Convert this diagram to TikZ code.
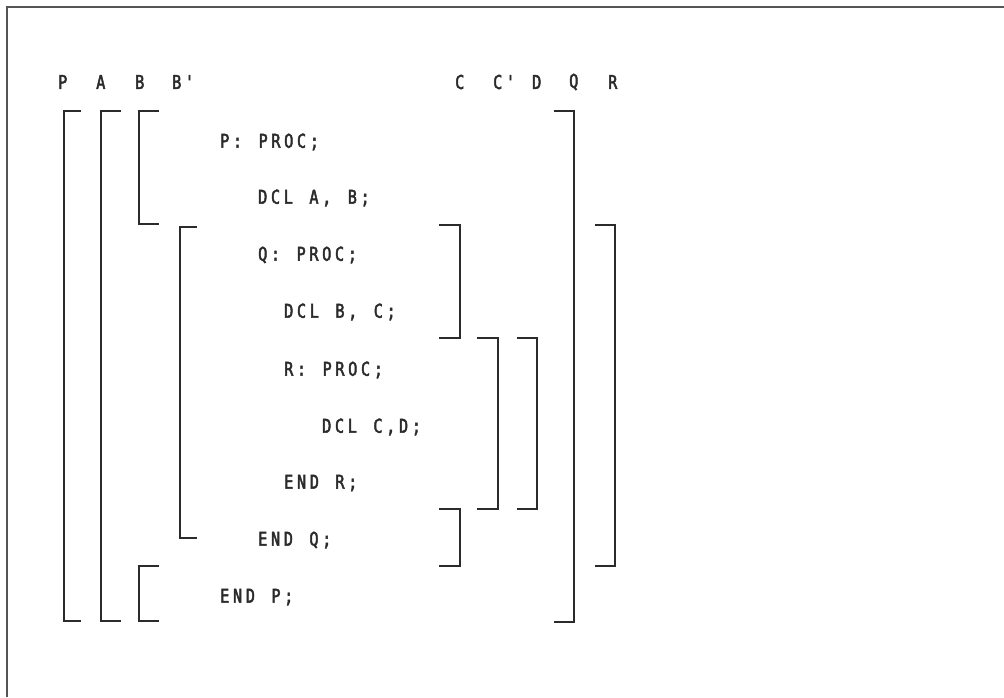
\documentclass[tikz,border=0pt]{standalone}
\usepackage{fontspec}
\newfontfamily\codefont[FakeStretch=0.8,FakeBold=2.5]{DejaVu Sans Mono}
\def\spreadloop#1{\ifx#1\relax\else\hbox to 12.8pt{#1\hss}\expandafter\spreadloop\fi}
\def\spread#1{\hbox{\spreadloop#1\relax}}
\definecolor{ink}{HTML}{2B2B2B}
\definecolor{framegray}{HTML}{555555}
\tikzset{
  code/.style={anchor=west,inner sep=0pt,text=ink,font=\codefont\fontsize{19}{21}\selectfont},
  brk/.style={draw=ink,line width=1.7pt,line cap=butt,line join=miter},
  frameline/.style={draw=framegray,line width=1.6pt}
}
\begin{document}
\begin{tikzpicture}[x=1pt,y=-1pt]
\useasboundingbox (0,0) rectangle (1004,697);
% frame (top and left edges only)
\draw[frameline] (7,697) -- (7,7) -- (1004,7);
% column labels
\node[code] (lP)  at (58,82)  {\spread{P}};
\node[code] (lA)  at (96,82)  {\spread{A}};
\node[code] (lB)  at (135,82) {\spread{B}};
\node[code] (lBp) at (172,82) {\spread{B'}};
\node[code] (lC)  at (455,82) {\spread{C}};
\node[code] (lCp) at (493,82) {\spread{C'}};
\node[code] (lD)  at (532,82) {\spread{D}};
\node[code] (lQ)  at (569,82) {\spread{Q}};
\node[code] (lR)  at (608,82) {\spread{R}};
% program text
\node[code] (t1) at (220,142) {\spread{P:~PROC;}};
\node[code] (t2) at (258,198) {\spread{DCL~A,~B;}};
\node[code] (t3) at (258,255) {\spread{Q:~PROC;}};
\node[code] (t4) at (284,312) {\spread{DCL~B,~C;}};
\node[code] (t5) at (284,370) {\spread{R:~PROC;}};
\node[code] (t6) at (322,427) {\spread{DCL~C,D;}};
\node[code] (t7) at (284,483) {\spread{END~R;}};
\node[code] (t8) at (258,540) {\spread{END~Q;}};
\node[code] (t9) at (220,597) {\spread{END~P;}};
% left brackets
\draw[brk] (81,111) -- (64,111) -- (64,621) -- (81,621);   % P
\draw[brk] (121,111) -- (101,111) -- (101,621) -- (121,621); % A
\draw[brk] (159,111) -- (139,111) -- (139,224) -- (159,224); % B
\draw[brk] (197,227) -- (180,227) -- (180,538) -- (197,538); % B'
\draw[brk] (159,566) -- (139,566) -- (139,621) -- (159,621); % B (again)
% right brackets
\draw[brk] (554,111) -- (574,111) -- (574,622) -- (554,622); % Q
\draw[brk] (595,225) -- (615,225) -- (615,566) -- (595,566); % R
\draw[brk] (439,225) -- (460,225) -- (460,338) -- (439,338); % C
\draw[brk] (439,509) -- (460,509) -- (460,566) -- (439,566); % C (again)
\draw[brk] (477,338) -- (498,338) -- (498,509) -- (477,509); % C'
\draw[brk] (517,338) -- (537,338) -- (537,509) -- (517,509); % D
\end{tikzpicture}
\end{document}
